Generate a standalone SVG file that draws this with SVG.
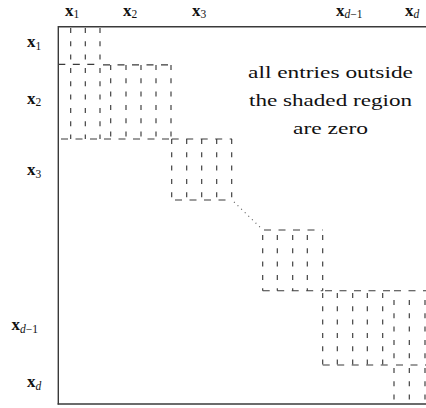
<svg xmlns="http://www.w3.org/2000/svg" width="426" height="408" viewBox="0 0 426 408">
<style>
.ax{stroke:#3a3a3a;stroke-width:1.4;fill:none}
.dv{stroke:#3a3a3a;stroke-width:1.15;fill:none;stroke-dasharray:5 8.3}
.dh{stroke:#3a3a3a;stroke-width:1.15;fill:none;stroke-dasharray:7 7.5}
.dot{stroke:#555;stroke-width:1.1;fill:none;stroke-dasharray:1 4}
.lb{font-family:"Liberation Serif","Times New Roman",serif;font-size:17px;font-weight:bold;fill:#111}
.sb{font-family:"Liberation Serif","Times New Roman",serif;font-size:11.5px;font-weight:normal;fill:#111}
.it{font-style:italic}
.note{font-family:"Liberation Serif","Times New Roman",serif;font-size:17px;fill:#111;text-anchor:middle}
</style>
<rect width="426" height="408" fill="#fff"/>
<g id="axes">
<line class="ax" x1="58.3" y1="26.7" x2="426" y2="26.7"/>
<line class="ax" x1="58.3" y1="26" x2="58.3" y2="404.5"/>
<line class="ax" x1="57.6" y1="404" x2="426" y2="404"/>
</g>
<g id="labels">
<text class="lb" x="65" y="15.5">x<tspan class="sb" dy="2.5">1</tspan></text>
<text class="lb" x="123" y="15.5">x<tspan class="sb" dy="2.5">2</tspan></text>
<text class="lb" x="192" y="15.5">x<tspan class="sb" dy="2.5">3</tspan></text>
<text class="lb" x="336" y="15.5">x<tspan class="sb it" dy="2.5">d</tspan><tspan class="sb">−1</tspan></text>
<text class="lb" x="405" y="15.5">x<tspan class="sb it" dy="2.5">d</tspan></text>
<text class="lb" x="27" y="47.3">x<tspan class="sb" dy="2.5">1</tspan></text>
<text class="lb" x="27" y="103.5">x<tspan class="sb" dy="2.5">2</tspan></text>
<text class="lb" x="27" y="175">x<tspan class="sb" dy="2.5">3</tspan></text>
<text class="lb" x="11.5" y="330">x<tspan class="sb it" dy="2.5">d</tspan><tspan class="sb">−1</tspan></text>
<text class="lb" x="27" y="387.3">x<tspan class="sb it" dy="2.5">d</tspan></text>
</g>
<g id="note">
<text class="note" x="330.5" y="78" textLength="165" lengthAdjust="spacingAndGlyphs">all entries outside</text>
<text class="note" x="330.5" y="106" textLength="163" lengthAdjust="spacingAndGlyphs">the shaded region</text>
<text class="note" x="330.5" y="134" textLength="75" lengthAdjust="spacingAndGlyphs">are zero</text>
</g>
<g id="block-1-1">
<line class="dv" x1="70.7" y1="28" x2="70.7" y2="64.3"/>
<line class="dv" x1="85.3" y1="28" x2="85.3" y2="64.3"/>
<line class="dv" x1="100" y1="28" x2="100" y2="64.3"/>
<line class="dh" x1="58.3" y1="64.3" x2="100" y2="64.3"/>
</g>
<g id="block-2-1">
<line class="dv" x1="70.7" y1="68" x2="70.7" y2="139"/>
<line class="dv" x1="85.3" y1="68" x2="85.3" y2="139"/>
<line class="dv" x1="100" y1="68" x2="100" y2="139"/>
<line class="dh" x1="61" y1="139" x2="100" y2="139"/>
</g>
<g id="block-2-2">
<line class="dh" x1="103" y1="64.8" x2="171" y2="64.8"/>
<line class="dv" x1="110.7" y1="65" x2="110.7" y2="139"/>
<line class="dv" x1="126" y1="65" x2="126" y2="139"/>
<line class="dv" x1="141" y1="65" x2="141" y2="139"/>
<line class="dv" x1="156" y1="65" x2="156" y2="139"/>
<line class="dv" x1="171" y1="65" x2="171" y2="139"/>
<line class="dh" x1="104" y1="139" x2="171" y2="139"/>
</g>
<g id="block-3-3">
<line class="dh" x1="171.7" y1="139" x2="232" y2="139"/>
<line class="dv" x1="171.7" y1="139" x2="171.7" y2="200"/>
<line class="dv" x1="186.7" y1="139" x2="186.7" y2="200"/>
<line class="dv" x1="201.7" y1="139" x2="201.7" y2="200"/>
<line class="dv" x1="216.7" y1="139" x2="216.7" y2="200"/>
<line class="dv" x1="231.7" y1="139" x2="231.7" y2="200"/>
<line class="dh" x1="175" y1="200" x2="232" y2="200"/>
</g>
<g id="connectors">
<line class="dot" x1="234" y1="202" x2="262" y2="229"/>
</g>
<g id="block-k">
<line class="dh" x1="264" y1="230" x2="322.7" y2="230"/>
<line class="dv" x1="262.7" y1="235" x2="262.7" y2="290.7"/>
<line class="dv" x1="277.3" y1="235" x2="277.3" y2="290.7"/>
<line class="dv" x1="292.7" y1="235" x2="292.7" y2="290.7"/>
<line class="dv" x1="307.3" y1="235" x2="307.3" y2="290.7"/>
<line class="dv" x1="322.7" y1="235" x2="322.7" y2="290.7"/>
<line class="dh" x1="262.7" y1="290.7" x2="322.7" y2="290.7"/>
</g>
<g id="block-dm1-dm1">
<line class="dh" x1="325" y1="290.7" x2="394" y2="290.7"/>
<line class="dv" x1="322.7" y1="293" x2="322.7" y2="365"/>
<line class="dv" x1="337.3" y1="293" x2="337.3" y2="365"/>
<line class="dv" x1="352.7" y1="293" x2="352.7" y2="365"/>
<line class="dv" x1="367.3" y1="293" x2="367.3" y2="365"/>
<line class="dv" x1="382.7" y1="293" x2="382.7" y2="365"/>
<line class="dh" x1="322.7" y1="365" x2="394" y2="365"/>
</g>
<g id="block-dm1-d">
<line class="dh" x1="394" y1="290.7" x2="426" y2="290.7"/>
<line class="dv" x1="394" y1="300" x2="394" y2="365"/>
<line class="dv" x1="409.3" y1="300" x2="409.3" y2="365"/>
<line class="dv" x1="425" y1="300" x2="425" y2="365"/>
<line class="dh" x1="396" y1="365" x2="426" y2="365"/>
</g>
<g id="block-d-d">
<line class="dv" x1="394" y1="368" x2="394" y2="404"/>
<line class="dv" x1="409.3" y1="368" x2="409.3" y2="404"/>
<line class="dv" x1="425" y1="368" x2="425" y2="404"/>
</g>
</svg>
